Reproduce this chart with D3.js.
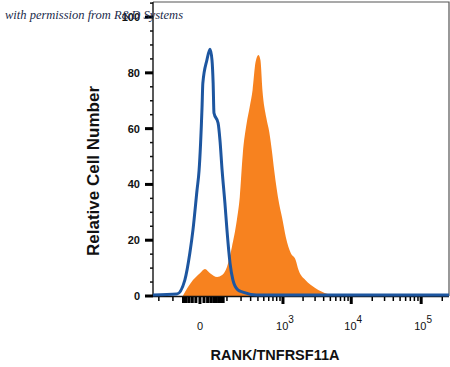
<!DOCTYPE html>
<html>
<head>
<meta charset="utf-8">
<script src="https://cdn.jsdelivr.net/npm/d3@7"></script>
<style>
  body { margin: 0; background: #fff; }
</style>
</head>
<body>
<div id="my_dataviz"></div>
<script>
// isotype control (blue outline)
var isoX = [-257, -79, -45, -27.5, -18, -7, -2, 5, 7, 18, 27.5, 34, 38, 41, 57, 65, 75, 89, 100, 118, 137, 173, 216, 379, 249500];
var isoY = [0.4, 0.7, 5.7, 15.4, 23.7, 38, 45, 67.7, 76.3, 84.6, 88.5, 84.6, 76.3, 65.6, 62, 56, 45, 33.3, 23.7, 11.8, 5.7, 2.2, 1.4, 0.4, 0.4];

// RANK stained cells (orange fill)
var rankX = [-53, -18, 0, 12.6, 27.5, 53, 75, 100, 130, 165, 189, 216, 255, 288, 324, 365, 408, 440, 475, 550, 612, 680, 731, 869, 965, 1106, 1311, 1551, 1714, 2161, 3007, 4593, 5760];
var rankY = [0, 5.7, 8.2, 9.7, 8.2, 6.8, 7.5, 10.4, 17.6, 27.2, 35.5, 51, 62, 67.7, 73.8, 83.9, 86.4, 84.6, 73.8, 63.8, 58.8, 51.3, 45.2, 33.3, 28.3, 21.1, 15.4, 12.9, 9.3, 5.7, 2.9, 0.7, 0];

var yMajor = [0, 20, 40, 60, 80, 100];
var xMajor = [0, 1e3, 1e4, 1e5];
var xMajorExp = ["", "3", "4", "5"];
var xMinor = [-200, -100, -50, -40, -30, -20, -10,
              10, 20, 30, 40, 50, 60, 70, 80, 100, 200, 300, 400, 500, 600, 700, 800, 900,
              2000, 3000, 4000, 5000, 6000, 7000, 8000, 9000,
              20000, 30000, 40000, 50000, 60000, 70000, 80000, 90000, 200000];

var W = 450, H = 367;
var pLeft = 153, pRight = 449, pTop = 2, pBottom = 296;

var svg = d3.select("#my_dataviz")
  .append("svg")
  .attr("width", W)
  .attr("height", H)
  .style("display", "block");

// biexponential-ish x axis
var x = d3.scaleSymlog()
  .constant(70)
  .domain([-257, 249500])
  .range([pLeft, pRight]);

var y = d3.scaleLinear()
  .domain([0, 105.4])
  .range([pBottom, pTop]);

// orange histogram
var area = d3.area()
  .x(function(d, i) { return x(rankX[i]); })
  .y0(y(0))
  .y1(function(d) { return y(d); })
  .curve(d3.curveMonotoneX);

svg.append("path")
  .datum(rankY)
  .attr("d", area)
  .style("fill", "#f7821f");

// frame
svg.append("path")
  .attr("d", "M" + pLeft + "," + pTop + "H" + pRight + "V" + pBottom)
  .style("fill", "none")
  .style("stroke", "#555")
  .style("stroke-width", 1.2);

// y axis
svg.append("line")
  .attr("x1", pLeft).attr("x2", pLeft)
  .attr("y1", pTop).attr("y2", pBottom + 1)
  .style("stroke", "#222")
  .style("stroke-width", 1.5);

var yMinor = d3.range(5, 106, 5).filter(function(v) { return v % 20 != 0; });
svg.append("g").selectAll("line")
  .data(yMinor)
  .enter().append("line")
  .attr("x1", pLeft - 3).attr("x2", pLeft)
  .attr("y1", function(d) { return y(d); })
  .attr("y2", function(d) { return y(d); })
  .style("stroke", "#111")
  .style("stroke-width", 1.5);

svg.append("g").selectAll("line")
  .data(yMajor)
  .enter().append("line")
  .attr("x1", pLeft - 8).attr("x2", pLeft)
  .attr("y1", function(d) { return y(d); })
  .attr("y2", function(d) { return y(d); })
  .style("stroke", "#000")
  .style("stroke-width", 3);

svg.append("g").selectAll("text")
  .data(yMajor)
  .enter().append("text")
  .attr("x", 140)
  .attr("y", function(d) { return y(d) + 4; })
  .attr("text-anchor", "end")
  .style("font-family", "Liberation Sans, Arial, sans-serif")
  .style("font-weight", "bold")
  .style("font-size", "11px")
  .style("fill", "#111")
  .text(function(d) { return d; });

// x axis
svg.append("line")
  .attr("x1", pLeft).attr("x2", pRight)
  .attr("y1", pBottom + 0.5).attr("y2", pBottom + 0.5)
  .style("stroke", "#111")
  .style("stroke-width", 1.5);

svg.append("g").selectAll("line")
  .data(xMinor)
  .enter().append("line")
  .attr("x1", function(d) { return x(d); })
  .attr("x2", function(d) { return x(d); })
  .attr("y1", pBottom + 1)
  .attr("y2", function(d) { return Math.abs(d) < 100 ? pBottom + 7 : pBottom + 5; })
  .style("stroke", "#000")
  .style("stroke-width", function(d) { return Math.abs(d) < 100 ? 3 : 1.5; });

svg.append("g").selectAll("line")
  .data(xMajor)
  .enter().append("line")
  .attr("x1", function(d) { return x(d); })
  .attr("x2", function(d) { return x(d); })
  .attr("y1", pBottom + 1)
  .attr("y2", pBottom + 8)
  .style("stroke", "#000")
  .style("stroke-width", 3);

var xl = svg.append("g").selectAll("text")
  .data(xMajor)
  .enter().append("text")
  .attr("x", function(d, i) { return x(d) + (i == 0 ? 0 : 2); })
  .attr("y", 330)
  .attr("text-anchor", "middle")
  .style("font-family", "Liberation Sans, Arial, sans-serif")
  .style("font-size", "11px")
  .style("fill", "#111");
xl.append("tspan").text(function(d) { return d == 0 ? "0" : "10"; });
xl.append("tspan")
  .attr("dy", -7)
  .style("font-size", "10px")
  .text(function(d, i) { return xMajorExp[i]; });

// isotype line on top
var line = d3.line()
  .x(function(d, i) { return x(isoX[i]); })
  .y(function(d) { return y(d); })
  .curve(d3.curveMonotoneX);

svg.append("path")
  .datum(isoY)
  .attr("d", line)
  .style("fill", "none")
  .style("stroke", "#1d56a0")
  .style("stroke-width", 3)
  .style("stroke-linejoin", "round");

// axis titles
svg.append("text")
  .attr("transform", "translate(99,171) rotate(-90)")
  .attr("text-anchor", "middle")
  .style("font-family", "Liberation Sans, Arial, sans-serif")
  .style("font-weight", "bold")
  .style("font-size", "17px")
  .style("fill", "#111")
  .text("Relative Cell Number");

svg.append("text")
  .attr("x", 275)
  .attr("y", 360)
  .attr("text-anchor", "middle")
  .style("font-family", "Liberation Sans, Arial, sans-serif")
  .style("font-weight", "bold")
  .style("font-size", "14.5px")
  .style("fill", "#111")
  .text("RANK/TNFRSF11A");

// watermark
svg.append("text")
  .attr("x", 5)
  .attr("y", 19)
  .style("font-family", "Liberation Serif, serif")
  .style("font-style", "italic")
  .style("font-size", "12.5px")
  .style("fill", "#1b2b4b")
  .text("with permission from R&D Systems");
</script>
</body>
</html>
